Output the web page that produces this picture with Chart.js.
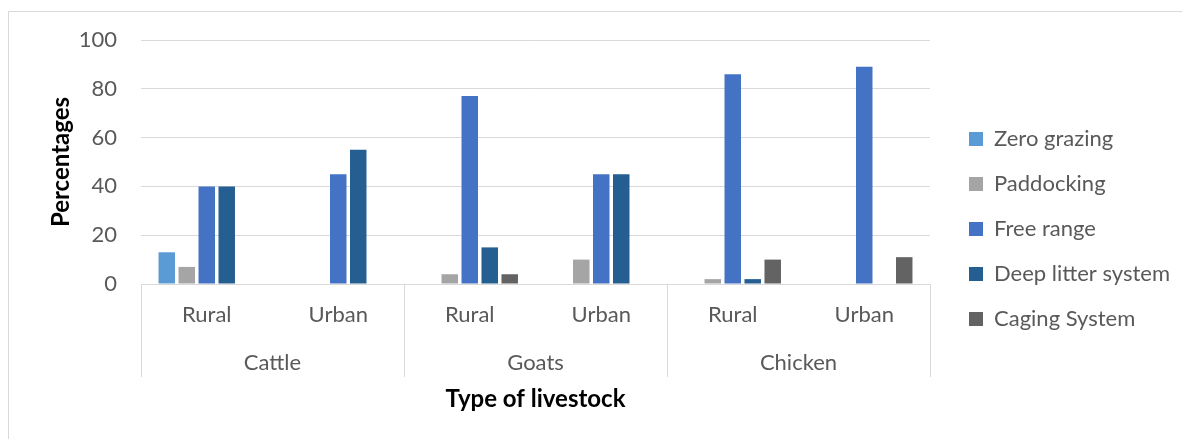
<!DOCTYPE html>
<html>
<head>
<meta charset="utf-8">
<script src="https://cdn.jsdelivr.net/npm/chart.js@4.4.1/dist/chart.umd.min.js"></script>
<style>
  html, body { margin: 0; padding: 0; background: #ffffff; }
  canvas { display: block; }
</style>
</head>
<body>
<canvas id="chart" width="1182" height="439"></canvas>
<script>
// Categories: settings within each livestock type
const settings = ['Rural', 'Urban', 'Rural', 'Urban', 'Rural', 'Urban'];
const livestock = ['Cattle', 'Goats', 'Chicken'];

// Share of households per housing system (%)
const zeroGrazing = [13, 0, 0, 0, 0, 0];
const paddocking  = [7, 0, 4, 10, 2, 0];
const freeRange   = [40, 45, 77, 45, 86, 89];
const deepLitter  = [40, 55, 15, 45, 2, 0];
const caging      = [0, 0, 4, 0, 10, 11];

const seriesNames = ['Zero grazing', 'Paddocking', 'Free range', 'Deep litter system', 'Caging System'];
const seriesColors = ['#5B9BD5', '#A5A5A5', '#4472C4', '#255E91', '#636363'];
const seriesValues = [zeroGrazing, paddocking, freeRange, deepLitter, caging];

const FONT = 'Lato, "Noto Sans", sans-serif';
const TEXT = '#595959';
const GRID = '#D9D9D9';
const LABEL_SIZE = 22;
const TITLE_SIZE = 24;

// Outer frame lines and group separators below the category axis
const framePlugin = {
  id: 'frame',
  beforeDraw(chart) {
    const ctx = chart.ctx;
    ctx.save();
    ctx.strokeStyle = GRID;
    ctx.lineWidth = 1;
    ctx.beginPath();
    ctx.moveTo(8.5, chart.height + 5);
    ctx.lineTo(8.5, 11.5);
    ctx.lineTo(chart.width + 5, 11.5);
    ctx.stroke();
    ctx.restore();
  },
  afterDraw(chart) {
    const xs = chart.scales.x;
    const xg = chart.scales.xGroup;
    const ctx = chart.ctx;
    const step = (xs.right - xs.left) / livestock.length;
    const top = chart.chartArea.bottom;
    const bottom = xg.top + 39;
    ctx.save();
    ctx.strokeStyle = GRID;
    ctx.lineWidth = 1;
    ctx.beginPath();
    for (let i = 0; i <= livestock.length; i++) {
      const x = Math.round(xs.left + i * step) + 0.5;
      ctx.moveTo(x, top);
      ctx.lineTo(x, bottom);
    }
    ctx.stroke();
    ctx.restore();
  }
};

// Fixed legend column to the right of the plot
const legendPlacement = {
  id: 'legendPlacement',
  beforeInit(chart) {
    const fit = chart.legend.fit;
    chart.legend.fit = function () {
      fit.bind(this)();
      this.width = 252;
    };
  },
  afterLayout(chart) {
    const lg = chart.legend;
    const shift = 16;
    lg.left += shift;
    lg.right += shift;
  }
};

new Chart(document.getElementById('chart'), {
  type: 'bar',
  data: {
    labels: settings,
    datasets: seriesNames.map((name, i) => ({
      label: name,
      data: seriesValues[i],
      backgroundColor: seriesColors[i],
      borderWidth: 0,
      categoryPercentage: 0.76,
      barPercentage: 0.825,
      xAxisID: 'x',
      yAxisID: 'y'
    }))
  },
  options: {
    responsive: false,
    animation: false,
    layout: { padding: { left: 30, top: 40, right: 0, bottom: 21 } },
    plugins: {
      tooltip: { enabled: false },
      legend: {
        position: 'right',
        align: 'center',
        labels: {
          boxWidth: 14,
          boxHeight: 14,
          padding: 23,
          color: TEXT,
          font: { family: FONT, size: LABEL_SIZE }
        }
      }
    },
    scales: {
      x: {
        type: 'category',
        position: 'bottom',
        weight: 0,
        grid: { display: false, drawTicks: false },
        border: { display: false },
        ticks: { color: TEXT, padding: 18, font: { family: FONT, size: LABEL_SIZE }, maxRotation: 0 },
        afterFit(scale) { scale.height = 54; }
      },
      xGroup: {
        type: 'category',
        position: 'bottom',
        weight: 1,
        labels: livestock,
        offset: true,
        grid: { display: false, drawTicks: false },
        border: { display: false },
        ticks: { color: TEXT, padding: 12, font: { family: FONT, size: LABEL_SIZE }, maxRotation: 0 },
        title: {
          display: true,
          text: 'Type of livestock',
          color: '#000000',
          font: { family: FONT, size: TITLE_SIZE, weight: 'bold' },
          padding: { top: 0, bottom: 4 }
        },
        afterFit(scale) { scale.height = 80; }
      },
      y: {
        type: 'linear',
        position: 'left',
        min: 0,
        max: 100,
        grid: { color: GRID, lineWidth: 1, drawTicks: false },
        border: { display: false },
        ticks: { stepSize: 20, color: TEXT, padding: 24, font: { family: FONT, size: LABEL_SIZE } },
        title: {
          display: true,
          text: 'Percentages',
          color: '#000000',
          font: { family: FONT, size: TITLE_SIZE, weight: 'bold' },
          padding: { top: 17, bottom: 0 }
        },
        afterFit(scale) { scale.width = 111; }
      }
    }
  },
  plugins: [framePlugin, legendPlacement]
});
</script>
</body>
</html>
